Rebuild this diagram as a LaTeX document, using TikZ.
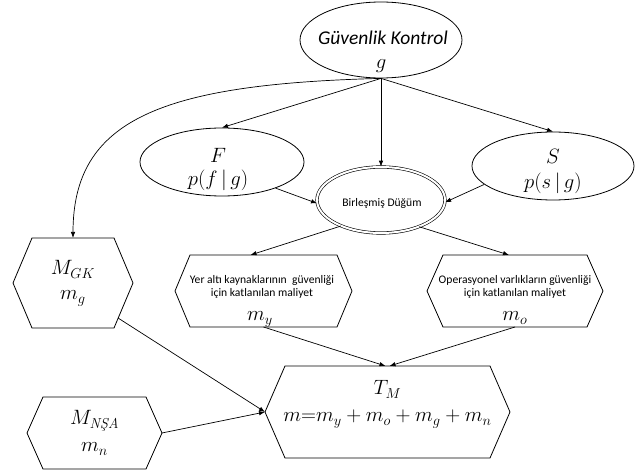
\documentclass[tikz,border=0pt]{standalone}
\usepackage{amsmath}
\usepackage{fontspec}
\newfontfamily\calfont{Carlito}
\usetikzlibrary{shapes.geometric,arrows.meta,calc}
\newcommand\hexa[6]{%
  \coordinate (#1) at (#2,#3);
  \coordinate (#1-n) at (#2,#3-#6);
  \coordinate (#1-s) at (#2,#3+#6);
  \coordinate (#1-w) at (#2-#4,#3);
  \coordinate (#1-e) at (#2+#4,#3);
  \coordinate (#1-ne) at (#2+#4-#5,#3-#6);
  \coordinate (#1-nw) at (#2-#4+#5,#3-#6);
  \coordinate (#1-se) at (#2+#4-#5,#3+#6);
  \coordinate (#1-sw) at (#2-#4+#5,#3+#6);
  \draw[hexline] (#1-w) -- (#1-nw) -- (#1-ne) -- (#1-e) -- (#1-se) -- (#1-sw) -- cycle;
}
\begin{document}
\begin{tikzpicture}[x=1pt,y=-1pt,
  ell/.style={draw, ellipse, inner sep=0pt, line width=0.8pt},
  dell/.style={ellipse, inner sep=0pt, draw, double, double distance=2pt, line width=0.6pt},
  arr/.style={-{Latex[length=6pt,width=4.5pt]}, line width=0.7pt},
  hexline/.style={draw, line width=0.8pt},
  mtxt/.style={font=\fontsize{20.5}{23}\selectfont, anchor=base, inner sep=0pt},
  ctxt/.style={font=\calfont\fontsize{11.6}{13}\selectfont, anchor=base, inner sep=0pt},
  ttxt/.style={font=\calfont\itshape\fontsize{19.5}{22}\selectfont, anchor=base, inner sep=0pt}]
\useasboundingbox (0,0) rectangle (641,473);
% ellipses
\node[ell, minimum width=162pt, minimum height=76pt] (G) at (381,40) {};
\node[ttxt] (Gt) at (383,45) {Güvenlik Kontrol};
\node[mtxt] (Gm) at (381,69) {$g$};
\node[ell, minimum width=164pt, minimum height=68pt] (F) at (222,162) {};
\node[mtxt] (Ft) at (218,163) {$F$};
\node[mtxt] (Fm) at (218,186) {$p(f\,|\,g)$};
\node[ell, minimum width=162pt, minimum height=68pt] (S) at (553,166) {};
\node[mtxt] (St) at (553,164) {$S$};
\node[mtxt] (Sm) at (553,189) {$p(s\,|\,g)$};
\node[dell, minimum width=128pt, minimum height=66pt] (B) at (381,200) {};
\node[ctxt] (Bt) at (382,207) {Birleşmiş Düğüm};
% hexagons
\hexa{GK}{73}{283}{60}{19}{45}
\node[mtxt] (GKt) at (73,275) {$M_{GK}$};
\node[mtxt] (GKm) at (73,300) {$m_g$};
\hexa{Y}{263.5}{291}{88.5}{15}{36}
\node[ctxt] (Yt1) at (262,284) {Yer altı kaynaklarının~~güvenliği};
\node[ctxt] (Yt2) at (262,297) {için katlanılan maliyet};
\node[mtxt] (Ym) at (260,321) {$m_y$};
\hexa{O}{515}{291}{88}{16}{36}
\node[ctxt] (Ot1) at (515,284) {Operasyonel varlıkların güvenliği};
\node[ctxt] (Ot2) at (515,297) {için katlanılan maliyet};
\node[mtxt] (Om) at (515,321) {$m_o$};
\hexa{TM}{387.5}{412}{122.5}{20}{46}
\node[mtxt] (TMt) at (387.5,395) {$T_M$};
\node[mtxt] (TMm) at (387.5,422) {$m{=}m_y+m_o+m_g+m_n$};
\hexa{N}{94.5}{433}{67.5}{16}{36}
\node[mtxt] (Nt) at (94.5,425) {$M_{\textit{N\c{S}A}}$};
\node[mtxt] (Nm) at (94.5,452) {$m_n$};
% helper coordinates
\coordinate (GKout) at ($(GK-e)!0.78!(GK-se)$);
\coordinate (Ytip) at ($(Y-n)+(-13,0)$);
\coordinate (Otip) at ($(O-n)+(-6,0)$);
\coordinate (TMa) at ($(TM-n)+(-2,0)$);
\coordinate (TMb) at ($(TM-n)+(2,0)$);
% connectors
\draw[arr] (G.south) -- (F.north);
\draw[arr] (G.south) -- (B.north);
\draw[arr] (G.south) -- (S.north);
\draw[arr] (G.south) .. controls (160,84) and (73,120) .. (GK-n);
\draw[arr] (F.-26) -- (B.183);
\draw[arr] (S.195) -- (B.358);
\draw[arr] (B.213) -- (Ytip);
\draw[arr] (B.-35) -- (Otip);
\draw[arr] (Y-s) -- (TMa);
\draw[arr] (O-s) -- (TMb);
\draw[arr] (GKout) -- (TM-w);
\draw[arr] (N-e) -- (TM-w);
\end{tikzpicture}
\end{document}
